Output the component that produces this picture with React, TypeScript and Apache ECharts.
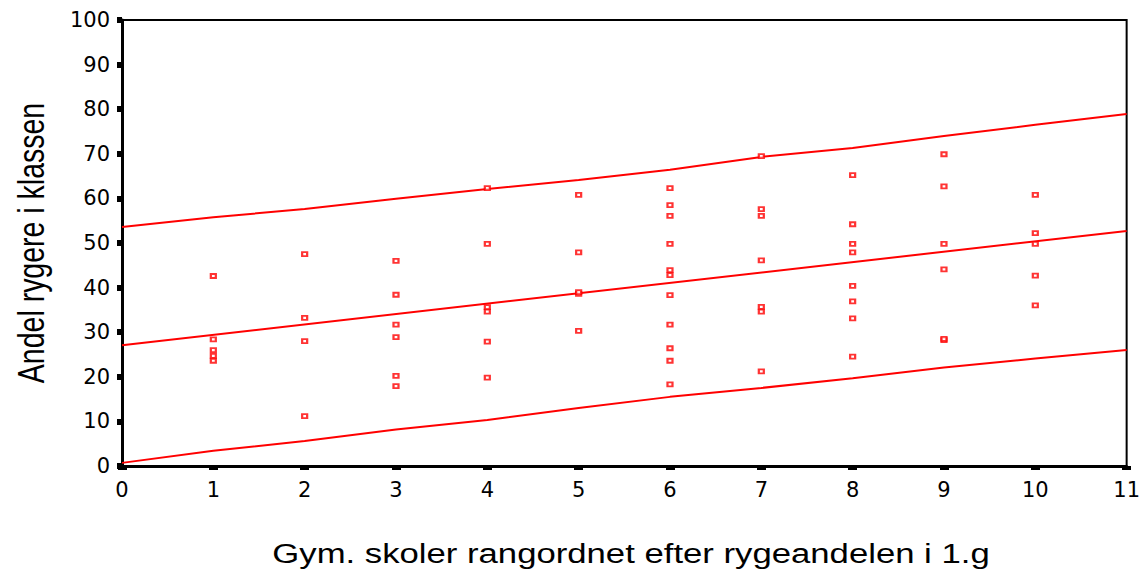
import React, { useEffect, useRef } from "react";
import * as echarts from "echarts";

// School rank (x) and observed share of smokers in each class (y)
const schoolRanks = [1, 2, 3, 4, 5, 6, 7, 8, 9, 10];
const smokerShares: number[][] = [
  [42.6, 28.4, 26.0, 24.7, 23.6],
  [47.5, 33.2, 28.0, 11.2],
  [46.0, 38.4, 31.7, 28.9, 20.2, 17.9],
  [62.3, 49.8, 35.6, 34.6, 27.9, 19.8],
  [60.8, 47.9, 38.6, 39.0, 30.3],
  [62.3, 58.5, 56.1, 49.8, 43.9, 42.8, 38.3, 31.7, 26.4, 23.6, 18.3],
  [69.5, 57.6, 56.1, 46.1, 35.7, 34.6, 21.2],
  [65.2, 54.2, 49.8, 47.9, 40.4, 36.9, 33.1, 24.5],
  [69.9, 62.7, 49.8, 44.1, 28.2, 28.5],
  [60.8, 52.2, 49.8, 42.7, 36.0],
];

// Fitted regression line and prediction interval
const fitX = [0, 11];
const fitY = [27.1, 52.7];
const bandX = [0, 1, 2, 3, 4, 5, 6, 7, 8, 9, 10, 11];
const upperY = [53.6, 55.8, 57.6, 59.9, 62.1, 64.1, 66.4, 69.3, 71.3, 74.0, 76.5, 78.9];
const lowerY = [0.7, 3.4, 5.6, 8.2, 10.3, 13.0, 15.5, 17.5, 19.7, 22.1, 24.1, 26.0];

const xTitle = "Gym. skoler rangordnet efter rygeandelen i 1.g";
const yTitle = "Andel rygere i klassen";

export default function App() {
  const ref = useRef<HTMLDivElement>(null);
  useEffect(() => {
    if (!ref.current) return;
    const chart = echarts.init(ref.current, undefined, { renderer: "svg" });
    const points: number[][] = [];
    schoolRanks.forEach((x, i) => smokerShares[i].forEach((v) => points.push([x, v])));
    const red = "#ff0000";
    const lineSeries = (xs: number[], ys: number[]) => ({
      type: "line",
      data: xs.map((x, i) => [x, ys[i]]),
      showSymbol: false,
      symbol: "none",
      lineStyle: { color: red, width: 2 },
      z: 2,
    });
    chart.setOption({
      animation: false,
      backgroundColor: "#fff",
      grid: {
        left: 122,
        right: 15,
        top: 20,
        bottom: 103,
        show: true,
        borderColor: "#000",
        borderWidth: 2,
      },
      xAxis: {
        type: "value",
        min: 0,
        max: 11,
        interval: 1,
        splitLine: { show: false },
        axisLine: { show: true, onZero: false, lineStyle: { color: "#000", width: 3 } },
        axisTick: { show: true, length: 4, lineStyle: { color: "#000", width: 9 } },
        axisLabel: {
          margin: 13,
          color: "#000",
          fontSize: 21,
          fontFamily: "DejaVu Sans",
        },
      },
      yAxis: {
        type: "value",
        min: 0,
        max: 100,
        interval: 10,
        splitLine: { show: false },
        axisLine: { show: true, onZero: false, lineStyle: { color: "#000", width: 3 } },
        axisTick: { show: true, length: 5, lineStyle: { color: "#000", width: 6 } },
        axisLabel: {
          margin: 12,
          color: "#000",
          fontSize: 21,
          fontFamily: "DejaVu Sans",
        },
      },
      graphic: [
        {
          type: "text",
          x: 631,
          y: 553,
          scaleX: 1.24,
          style: {
            text: xTitle,
            fontSize: 28,
            fontFamily: "Liberation Sans",
            fill: "#000",
            textAlign: "center",
            textVerticalAlign: "middle",
          },
        },
        {
          type: "text",
          x: 31,
          y: 243,
          rotation: Math.PI / 2,
          scaleY: 1.32,
          style: {
            text: yTitle,
            fontSize: 28.5,
            fontFamily: "Liberation Sans",
            fill: "#000",
            textAlign: "center",
            textVerticalAlign: "middle",
          },
        },
      ],
      series: [
        lineSeries(fitX, fitY),
        lineSeries(bandX, upperY),
        lineSeries(bandX, lowerY),
        {
          type: "scatter",
          data: points,
          symbol: "rect",
          symbolSize: [5, 4],
          itemStyle: { color: "#fff", borderColor: red, borderWidth: 2 },
          z: 3,
        },
      ],
    });
    return () => chart.dispose();
  }, []);
  return (
    <div
      ref={ref}
      style={{ position: "fixed", left: 0, top: 0, width: 1143, height: 569 }}
    />
  );
}
